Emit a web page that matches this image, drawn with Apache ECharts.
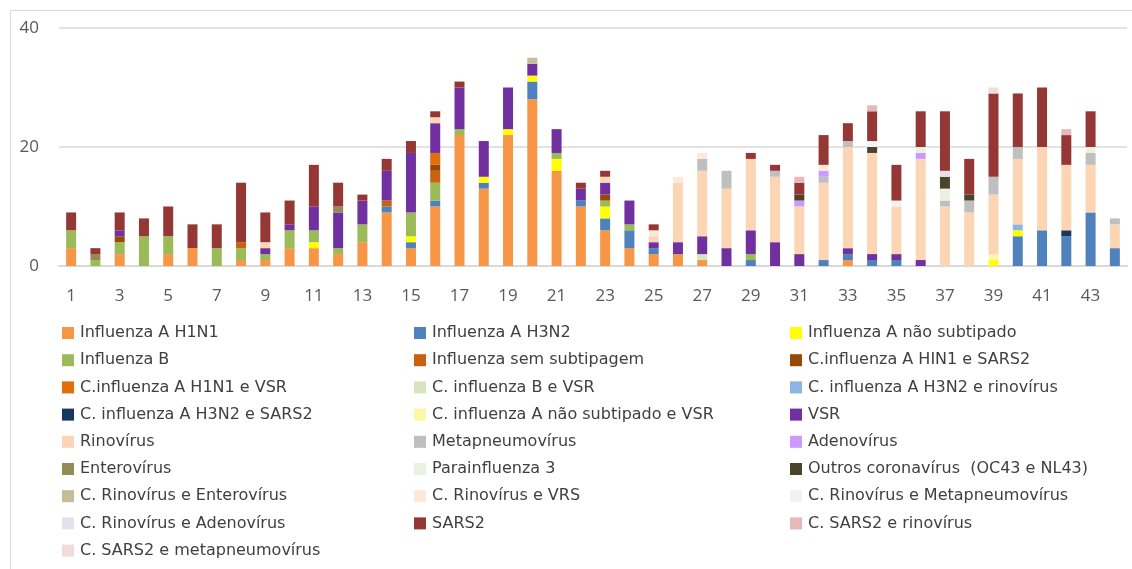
<!DOCTYPE html>
<html>
<head>
<meta charset="utf-8">
<script src="https://cdn.jsdelivr.net/npm/echarts@6/dist/echarts.min.js"></script>
<style>
  html, body { margin: 0; padding: 0; background: #fff; }
  #chart { width: 1132px; height: 569px; }
</style>
</head>
<body>
<div id="chart"></div>
<script>
// semanas epidemiologicas 1..44
var weeks = [];
for (var w = 1; w <= 44; w++) weeks.push(String(w));

var yTicks = [0, 20, 40];

// casos por agente, por semana
var h1n1       = [3,0,2,0,2,3,0,1,1,3, 3,2,4,9,3,10,22,13,22,28, 16,10,6,3,2,2,1,0,0,0, 0,0,1,0,0,0,0,0,0,0, 0,0,0,0];
var h3n2       = [0,0,0,0,0,0,0,0,0,0, 0,0,0,1,1,1,0,1,0,3, 0,1,2,3,1,0,0,0,1,0, 0,1,1,1,1,0,0,0,0,5, 6,5,9,3];
var naoSub     = [0,0,0,0,0,0,0,0,0,0, 1,0,0,0,1,0,0,1,1,1, 2,0,2,0,0,0,0,0,0,0, 0,0,0,0,0,0,0,0,1,1, 0,0,0,0];
var fluB       = [3,1,2,5,3,0,3,2,1,3, 2,1,3,0,4,3,1,0,0,0, 1,0,1,1,0,0,0,0,1,0, 0,0,0,0,0,0,0,0,0,0, 0,0,0,0];
var semSub     = [0,0,0,0,0,0,0,1,0,0, 0,0,0,1,0,2,0,0,0,0, 0,0,0,0,0,0,0,0,0,0, 0,0,0,0,0,0,0,0,0,0, 0,0,0,0];
var h1n1Sars2  = [0,0,1,0,0,0,0,0,0,0, 0,0,0,0,0,1,0,0,0,0, 0,0,1,0,0,0,0,0,0,0, 0,0,0,0,0,0,0,0,0,0, 0,0,0,0];
var h1n1Vsr    = [0,0,0,0,0,0,0,0,0,0, 0,0,0,0,0,2,0,0,0,0, 0,0,0,0,0,0,0,0,0,0, 0,0,0,0,0,0,0,0,0,0, 0,0,0,0];
var bVsr       = [0,0,0,0,0,0,0,0,0,0, 0,0,0,0,0,0,0,0,0,0, 0,0,0,0,0,0,1,0,0,0, 0,0,0,0,0,0,0,0,0,0, 0,0,0,0];
var h3n2Rino   = [0,0,0,0,0,0,0,0,0,0, 0,0,0,0,0,0,0,0,0,0, 0,0,0,0,0,0,0,0,0,0, 0,0,0,0,0,0,0,0,0,1, 0,0,0,0];
var h3n2Sars2  = [0,0,0,0,0,0,0,0,0,0, 0,0,0,0,0,0,0,0,0,0, 0,0,0,0,0,0,0,0,0,0, 0,0,0,0,0,0,0,0,0,0, 0,1,0,0];
var naoSubVsr  = [0,0,0,0,0,0,0,0,0,0, 0,0,0,0,0,0,0,0,0,0, 0,0,0,0,0,0,0,0,0,0, 0,0,0,0,0,0,0,0,1,0, 0,0,0,0];
var vsr        = [0,0,1,0,0,0,0,0,1,1, 4,6,4,5,10,5,7,6,7,2, 4,2,2,4,1,2,3,3,4,4, 2,0,1,1,1,1,0,0,0,0, 0,0,0,0];
var rino       = [0,0,0,0,0,0,0,0,1,0, 0,0,0,0,0,1,0,0,0,0, 0,0,1,0,1,10,11,10,12,11, 8,13,17,17,8,17,10,9,10,11, 14,11,8,4];
var metap      = [0,0,0,0,0,0,0,0,0,0, 0,0,0,0,0,0,0,0,0,0, 0,0,0,0,0,0,2,3,0,1, 0,1,1,0,0,0,1,2,3,2, 0,0,2,1];
var adeno      = [0,0,0,0,0,0,0,0,0,0, 0,0,0,0,0,0,0,0,0,0, 0,0,0,0,0,0,0,0,0,0, 1,1,0,0,0,1,0,0,0,0, 0,0,0,0];
var entero     = [0,1,0,0,0,0,0,0,0,0, 0,1,0,0,0,0,0,0,0,0, 0,0,0,0,0,0,0,0,0,0, 0,0,0,0,0,0,0,0,0,0, 0,0,0,0];
var parainf    = [0,0,0,0,0,0,0,0,0,0, 0,0,0,0,0,0,0,0,0,0, 0,0,0,0,0,0,0,0,0,0, 0,0,0,0,0,1,2,0,0,0, 0,0,1,0];
var outrosCov  = [0,0,0,0,0,0,0,0,0,0, 0,0,0,0,0,0,0,0,0,0, 0,0,0,0,0,0,0,0,0,0, 1,0,0,1,0,0,2,1,0,0, 0,0,0,0];
var rinoEntero = [0,0,0,0,0,0,0,0,0,0, 0,0,0,0,0,0,0,0,0,1, 0,0,0,0,0,0,0,0,0,0, 0,0,0,0,0,0,0,0,0,0, 0,0,0,0];
var rinoVrs    = [0,0,0,0,0,0,0,0,0,0, 0,0,0,0,0,0,0,0,0,0, 0,0,0,0,1,1,1,0,0,0, 0,1,0,0,0,0,0,0,0,0, 0,0,0,0];
var rinoMeta   = [0,0,0,0,0,0,0,0,0,0, 0,0,0,0,0,0,0,0,0,0, 0,0,0,0,0,0,0,0,0,0, 0,0,0,1,1,0,0,0,0,0, 0,0,0,0];
var rinoAdeno  = [0,0,0,0,0,0,0,0,0,0, 0,0,0,0,0,0,0,0,0,0, 0,0,0,0,0,0,0,0,0,0, 0,0,0,0,0,0,1,0,0,0, 0,0,0,0];
var sars2      = [3,1,3,3,5,4,4,10,5,4, 7,4,1,2,2,1,1,0,0,0, 0,1,1,0,1,0,0,0,1,1, 2,5,3,5,6,6,10,6,14,9, 10,5,6,0];
var sars2Rino  = [0,0,0,0,0,0,0,0,0,0, 0,0,0,0,0,0,0,0,0,0, 0,0,0,0,0,0,0,0,0,0, 1,0,0,1,0,0,0,0,0,0, 0,1,0,0];
var sars2Meta  = [0,0,0,0,0,0,0,0,0,0, 0,0,0,0,0,0,0,0,0,0, 0,0,0,0,0,0,0,0,0,0, 0,0,0,0,0,0,0,0,1,0, 0,0,0,0];

// nome, dados, cor (ordem de empilhamento = ordem da legenda)
var agentes = [
  ['Influenza A H1N1', h1n1, '#f79646'],
  ['Influenza A H3N2', h3n2, '#4f81bd'],
  ['Influenza A não subtipado', naoSub, '#ffff00'],
  ['Influenza B', fluB, '#9bbb59'],
  ['Influenza sem subtipagem', semSub, '#c8620f'],
  ['C.influenza A HIN1 e SARS2', h1n1Sars2, '#984807'],
  ['C.influenza A H1N1 e VSR', h1n1Vsr, '#e46c0a'],
  ['C. influenza B e VSR', bVsr, '#d7e4bd'],
  ['C. influenza A H3N2 e rinovírus', h3n2Rino, '#8eb4e3'],
  ['C. influenza A H3N2 e SARS2', h3n2Sars2, '#17375e'],
  ['C. influenza A não subtipado e VSR', naoSubVsr, '#fbf8a6'],
  ['VSR', vsr, '#7030a0'],
  ['Rinovírus', rino, '#fcd5b5'],
  ['Metapneumovírus', metap, '#bfbfbf'],
  ['Adenovírus', adeno, '#cc99ff'],
  ['Enterovírus', entero, '#948a54'],
  ['Parainfluenza 3', parainf, '#ebf1de'],
  ['Outros coronavírus  (OC43 e NL43)', outrosCov, '#4a452a'],
  ['C. Rinovírus e Enterovírus', rinoEntero, '#c4bd97'],
  ['C. Rinovírus e VRS', rinoVrs, '#fde9d9'],
  ['C. Rinovírus e Metapneumovírus', rinoMeta, '#f2f2f2'],
  ['C. Rinovírus e Adenovírus', rinoAdeno, '#e5e0ec'],
  ['SARS2', sars2, '#953735'],
  ['C. SARS2 e rinovírus', sars2Rino, '#e6b9b8'],
  ['C. SARS2 e metapneumovírus', sars2Meta, '#f2dcdb']
];

var fonte = 'Open Sans';
var series = agentes.map(function (a) {
  return {
    name: a[0],
    type: 'bar',
    stack: 'total',
    barWidth: 10,
    data: a[1],
    itemStyle: { color: a[2] },
    emphasis: { disabled: true }
  };
});

// legenda em 3 colunas
var cols = [[], [], []];
agentes.forEach(function (a, i) { cols[i % 3].push(a[0]); });
var colLeft = [62, 414, 790];
var legends = cols.map(function (names, c) {
  return {
    orient: 'vertical',
    left: colLeft[c],
    top: 325,
    padding: 0,
    itemWidth: 12,
    itemHeight: 12,
    itemGap: 11.2,
    icon: 'rect',
    selectedMode: false,
    data: names,
    textStyle: { fontFamily: 'DejaVu Sans', fontSize: 16, color: '#404040', padding: [0, 0, 0, 1] }
  };
});

var myChart = echarts.init(document.getElementById('chart'));
var option = {
  animation: false,
  backgroundColor: '#fff',
  graphic: [{
    type: 'rect',
    shape: { x: 10.5, y: 10.5, width: 1130, height: 570 },
    style: { fill: 'none', stroke: '#d9d9d9', lineWidth: 1 }
  }],
  grid: { left: 59, right: 5, top: 28, height: 238 },
  legend: legends,
  xAxis: {
    type: 'category',
    data: weeks,
    axisTick: { show: false },
    axisLine: { lineStyle: { color: '#d9d9d9', width: 2 } },
    axisLabel: { interval: 1, margin: 22, fontFamily: fonte, fontSize: 17, color: '#595959' }
  },
  yAxis: {
    type: 'value',
    min: yTicks[0],
    max: yTicks[yTicks.length - 1],
    interval: 20,
    axisLine: { show: false },
    axisTick: { show: false },
    splitLine: { lineStyle: { color: '#d9d9d9', width: 1.5 } },
    axisLabel: { margin: 20, fontFamily: fonte, fontSize: 17, color: '#595959' }
  },
  series: series
};
myChart.setOption(option);
</script>
</body>
</html>
